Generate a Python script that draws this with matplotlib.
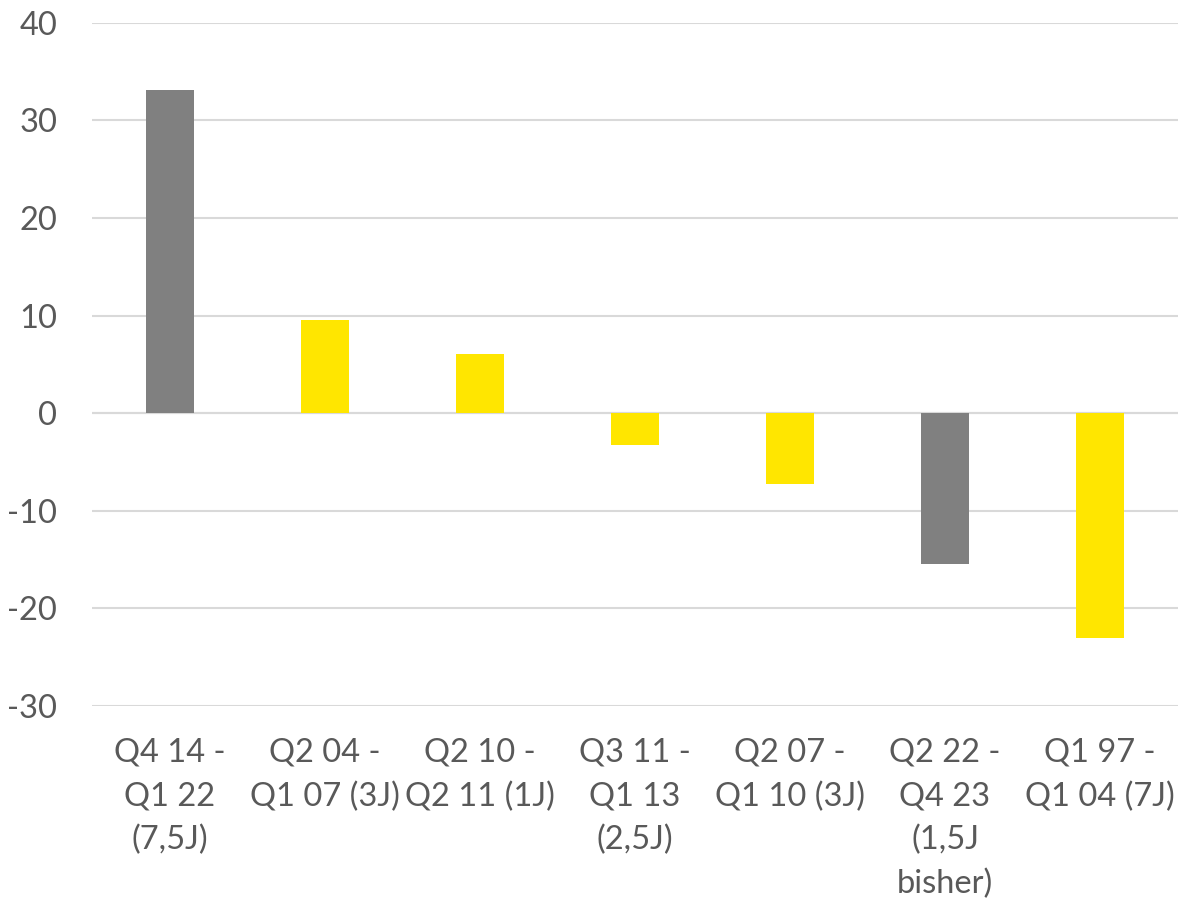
import matplotlib
matplotlib.use("Agg")
import matplotlib.pyplot as plt
import numpy as np

# Periods and change values
labels = ["Q4 14 -\nQ1 22\n(7,5J)", "Q2 04 -\nQ1 07 (3J)", "Q2 10 -\nQ2 11 (1J)",
          "Q3 11 -\nQ1 13\n(2,5J)", "Q2 07 -\nQ1 10 (3J)", "Q2 22 -\nQ4 23\n(1,5J\nbisher)",
          "Q1 97 -\nQ1 04 (7J)"]
values = [33.1, 9.5, 6.1, -3.3, -7.3, -15.5, -23.0]
highlight = [True, False, False, False, False, True, False]

GRAY = "#808080"
YELLOW = "#FFE600"
TEXT = "#595959"

plt.rcParams["font.family"] = ["Lato", "DejaVu Sans"]
plt.rcParams["axes.unicode_minus"] = False

fig = plt.figure(figsize=(11.8, 9.11), dpi=100)
ax = fig.add_axes([0.078, 0.225, 0.92, 0.75])

x = np.arange(len(values))
colors = [GRAY if h else YELLOW for h in highlight]
ax.bar(x, values, width=0.31, color=colors, zorder=3)

ax.set_ylim(-30, 40)
ax.set_xlim(-0.5, len(values) - 0.5)
ax.set_yticks(range(-30, 41, 10))
ax.yaxis.grid(True, color="#D9D9D9", linewidth=1.5, zorder=0)
ax.set_axisbelow(True)
for s in ax.spines.values():
    s.set_visible(False)
ax.axhline(0, color="#D9D9D9", linewidth=1.5, zorder=1)

ax.set_xticks(x)
ax.set_xticklabels(labels, fontsize=23.5, color=TEXT, linespacing=1.55, va="top")
ax.tick_params(axis="y", labelsize=23.5, labelcolor=TEXT, length=0, pad=25)
ax.tick_params(axis="x", length=0, pad=23)

fig.savefig("out.png", dpi=100)
